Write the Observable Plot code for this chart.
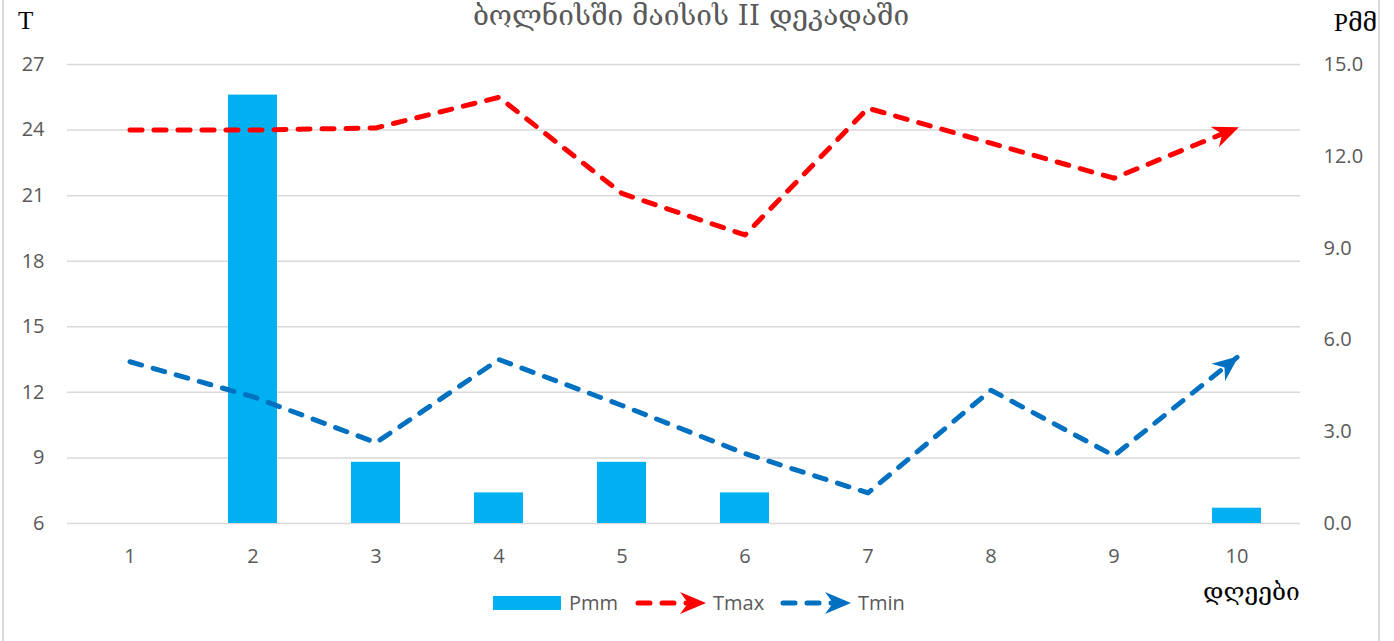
<!DOCTYPE html>
<html>
<head>
<meta charset="utf-8">
<script src="https://cdn.jsdelivr.net/npm/d3@7"></script>
<script src="https://cdn.jsdelivr.net/npm/@observablehq/plot@0.6"></script>
<style>
  html, body { margin: 0; padding: 0; background: #fff; }
  #wrap { position: relative; width: 1394px; height: 641px; overflow: hidden; background: #fff; }
  #frame { position: absolute; left: 2px; top: -4px; width: 1378px; height: 660px; border: 2px solid #d9d9d9; box-sizing: border-box; }
  .lbl { position: absolute; white-space: nowrap; line-height: 1.15; }
  #title { left: 0; width: 1382px; top: 0px; text-align: center; font-family: "DejaVu Serif", "DejaVu Sans", serif; font-size: 28px; color: #595959; }
  #tlab { left: 18px; top: 7px; font-family: "Liberation Serif", serif; font-size: 25px; color: #000; }
  #plab { left: 1334px; top: 9px; font-family: "Liberation Serif", "DejaVu Serif", serif; font-size: 25px; color: #000; }
  #dlab { left: 1203px; top: 578px; font-family: "DejaVu Serif", "DejaVu Sans", serif; font-size: 24.5px; color: #000; }
  #chart { position: absolute; left: 0; top: 0; }
  #legend { position: absolute; left: 480px; top: 585px; }
</style>
</head>
<body>
<div id="wrap">
  <div id="frame"></div>
  <div id="chart"></div>
  <div class="lbl" id="title"></div>
  <div class="lbl" id="tlab"></div>
  <div class="lbl" id="plab"></div>
  <div class="lbl" id="dlab"></div>
  <div id="legend"></div>
</div>
<script>
// ---- data ----
const days = [1, 2, 3, 4, 5, 6, 7, 8, 9, 10];
const tmax = [24.0, 24.0, 24.1, 25.5, 21.1, 19.2, 25.0, 23.4, 21.8, 24.1];
const tmin = [13.4, 11.8, 9.7, 13.5, 11.4, 9.2, 7.4, 12.1, 9.1, 13.6];
const pmm  = [0, 14.0, 2.0, 1.0, 2.0, 1.0, 0, 0, 0, 0.5];
const leftTicks = [6, 9, 12, 15, 18, 21, 24, 27];
const rightTicks = [0, 3, 6, 9, 12, 15];
const titleText = "ბოლნისში მაისის II დეკადაში";
const yTitle = "T";
const y2Title = "Pმმ";
const xTitle = "დღეები";
const seriesNames = ["Pmm", "Tmax", "Tmin"];
const colors = { Pmm: "#00B0F0", Tmax: "#FF0000", Tmin: "#0070C0" };

// secondary axis (0..15) mapped onto primary (6..27)
const tLo = 6, tHi = 27, pLo = 0, pHi = 15;
const pToT = p => tLo + (p - pLo) * (tHi - tLo) / (pHi - pLo);
const tToP = t => pLo + (t - tLo) * (pHi - pLo) / (tHi - tLo);

const data = days.map((d, i) => ({ day: d, tmax: tmax[i], tmin: tmin[i], pmm: pmm[i] }));

const NS = "http://www.w3.org/2000/svg";
function stealth(color) {
  const m = document.createElementNS(NS, "marker");
  m.setAttribute("viewBox", "-27 -13 30 26");
  m.setAttribute("markerWidth", 30);
  m.setAttribute("markerHeight", 26);
  m.setAttribute("markerUnits", "userSpaceOnUse");
  m.setAttribute("orient", "auto");
  m.setAttribute("refX", 0);
  m.setAttribute("refY", 0);
  m.setAttribute("overflow", "visible");
  const p = document.createElementNS(NS, "path");
  p.setAttribute("d", "M2,0 L-24,-11 L-16,0 L-24,11 Z");
  p.setAttribute("fill", color);
  p.setAttribute("stroke", "none");
  p.setAttribute("stroke-dasharray", "none");
  m.appendChild(p);
  return m;
}

const lineOpts = (key) => ({
  x: "day", y: key,
  stroke: colors[key === "tmax" ? "Tmax" : "Tmin"],
  strokeWidth: 5,
  strokeDasharray: "12,12",
  strokeLinecap: "round",
  strokeLinejoin: "round",
  markerEnd: stealth
});

const chart = Plot.plot({
  width: 1394,
  height: 641,
  marginLeft: 67,
  marginRight: 94,
  marginTop: 64,
  marginBottom: 118,
  style: { fontFamily: "'Open Sans', sans-serif", fontSize: "20px", color: "#595959", background: "transparent", overflow: "visible" },
  x: { type: "band", domain: days, paddingInner: 0.6, paddingOuter: 0.3, label: null },
  y: { domain: [tLo, tHi], label: null },
  marks: [
    Plot.gridY(leftTicks, { stroke: "#d9d9d9", strokeOpacity: 1, strokeWidth: 1.5 }),
    Plot.axisY(leftTicks, { anchor: "left", tickSize: 0, tickPadding: 23, label: null, fill: "#595959" }),
    Plot.axisY(rightTicks.map(pToT), { anchor: "right", tickSize: 0, tickPadding: 23, label: null, fill: "#595959", tickFormat: t => tToP(t).toFixed(1) }),
    Plot.axisX(days, { anchor: "bottom", tickSize: 0, tickPadding: 25, label: null, fill: "#595959" }),
    Plot.barY(data.filter(d => d.pmm > 0), { x: "day", y1: tLo, y2: d => pToT(d.pmm), fill: colors.Pmm }),
    Plot.line(data, lineOpts("tmax")),
    Plot.line(data, lineOpts("tmin"))
  ]
});
document.getElementById("chart").appendChild(chart);

document.getElementById("title").textContent = titleText;
document.getElementById("tlab").textContent = yTitle;
document.getElementById("plab").textContent = y2Title;
document.getElementById("dlab").textContent = xTitle;

// ---- legend ----
const leg = d3.select("#legend").append("svg").attr("width", 440).attr("height", 36)
  .style("overflow", "visible");
const ox = 480, oy = 585, cy = 603 - oy;
const defs = leg.append("defs");
function legMarker(id, color) {
  const m = stealth(color);
  m.setAttribute("id", id);
  defs.node().appendChild(m);
}
legMarker("legArrowR", colors.Tmax);
legMarker("legArrowB", colors.Tmin);
leg.append("rect").attr("x", 493 - ox).attr("y", cy - 7).attr("width", 68).attr("height", 14).attr("fill", colors.Pmm);
const legText = (x, t) => leg.append("text").attr("x", x - ox).attr("y", cy).attr("dy", "0.35em")
  .attr("font-family", "'Open Sans', sans-serif").attr("font-size", 20).attr("fill", "#595959").text(t);
legText(569, seriesNames[0]);
const legLine = (x1, x2, color, mid) => leg.append("path")
  .attr("d", `M${x1 - ox},${cy}H${x2 - ox}`)
  .attr("stroke", color).attr("stroke-width", 5).attr("stroke-dasharray", "12,12")
  .attr("stroke-linecap", "round").attr("fill", "none").attr("marker-end", `url(#${mid})`);
legLine(638, 704, colors.Tmax, "legArrowR");
legText(713, seriesNames[1]);
legLine(783, 849, colors.Tmin, "legArrowB");
legText(858, seriesNames[2]);
</script>
</body>
</html>
